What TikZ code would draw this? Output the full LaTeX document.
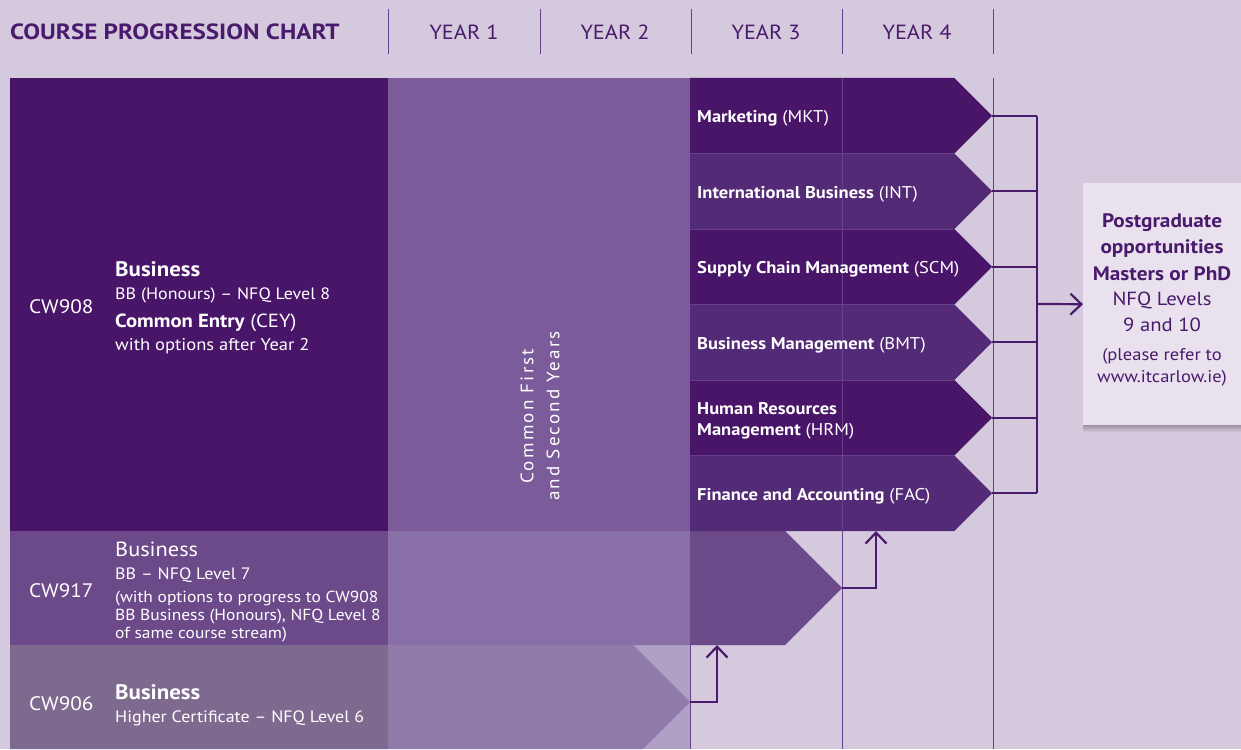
\documentclass[tikz,border=0pt]{standalone}
\usepackage{fontspec}
\setmainfont[FakeStretch=1.09]{PT Sans}
\newfontfamily\spacedfont[LetterSpace=12,FakeStretch=1.06]{PT Sans}
\newfontfamily\titlefont[FakeStretch=1.14]{PT Sans}
\usetikzlibrary{arrows.meta}
\definecolor{bg}{HTML}{D5C9DD}
\definecolor{dk}{HTML}{481569}
\definecolor{dktwo}{HTML}{532A75}
\definecolor{midp}{HTML}{6C4A8A}
\definecolor{greyp}{HTML}{7E6A8F}
\definecolor{ovl}{RGB}{155,135,185}
\definecolor{txt}{HTML}{4A1A6C}
\definecolor{vline}{HTML}{6A3F8C}
\definecolor{pgfill}{HTML}{E9E2EE}
\definecolor{faint}{HTML}{64418A}
\tikzset{
  fs/.style={font=\fontsize{#1}{#1}\selectfont},
  bfs/.style={font=\bfseries\fontsize{#1}{#1}\selectfont},
  wt/.style={text=white, inner sep=0pt, anchor=base west},
  hdr/.style={text=txt, inner sep=0pt, anchor=base},
  pgline/.style={text=txt, inner sep=0pt, anchor=base},
  sepline/.style={draw=vline, line width=1pt},
  faintline/.style={draw=faint, line width=0.8pt},
  bracket/.style={draw=txt, line width=2.2pt},
  barb/.style={-{Straight Barb[length=11pt,width=21pt,line width=2.2pt]}},
}
\begin{document}
\begin{tikzpicture}[x=1pt,y=-1pt]
\useasboundingbox (0,0) rectangle (1241,749);
\fill[bg] (0,0) rectangle (1241,749);

% header
\node[hdr, anchor=base west, font=\titlefont\bfseries\fontsize{22}{22}\selectfont] (title) at (10,40) {COURSE PROGRESSION CHART};
\foreach \x/\n in {388/a,540/b,691/c,842/d,993/e} {
  \draw[sepline] (\x,9) coordinate (st\n) -- (\x,54) coordinate (sb\n);
}
\node[hdr, fs=20.5] (y1) at (464,40) {YEAR 1};
\node[hdr, fs=20.5] (y2) at (615,40) {YEAR 2};
\node[hdr, fs=20.5] (y3) at (766,40) {YEAR 3};
\node[hdr, fs=20.5] (y4) at (917,40) {YEAR 4};

% main blocks
\fill[dk] (10,78) rectangle (690,531);
\fill[midp] (10,531) -- (785,531) -- (842,588) -- (785,645) -- (10,645) -- cycle;
\fill[greyp] (10,645) -- (633,645) -- (690,702) -- (643,749) -- (10,749) -- cycle;
\fill[ovl, opacity=0.62] (388,78) rectangle (690,749);

% option arrows
\foreach \i/\col in {0/dk,1/dktwo,2/dk,3/dktwo,4/dk,5/dktwo} {
  \pgfmathsetmacro\t{78+75.5*\i}
  \pgfmathsetmacro\c{\t+37.75}
  \pgfmathsetmacro\b{\t+75.5}
  \fill[\col] (690,\t) -- (954.25,\t) -- (992,\c) -- (954.25,\b) -- (690,\b) -- cycle;
  \coordinate (tip\i) at (992,\c);
}
\foreach \y in {153.5,229,304.5,380,455.5} {
  \draw[faintline] (690,\y) -- (954.25,\y);
}
\draw[draw=faint, line width=0.6pt] (842,78) -- (842,531);

% vertical grid lines
\draw[sepline] (993,78) -- (993,749);
\draw[sepline] (842,531) -- (842,749);
\draw[sepline] (690,645) -- (690,749);

% option labels
\node[wt, fs=17] (mkt) at (697,122.5) {\textbf{Marketing} (MKT)};
\node[wt, fs=17] (int) at (697,198) {\textbf{International Business} (INT)};
\node[wt, fs=17] (scm) at (697,273.5) {\textbf{Supply Chain Management} (SCM)};
\node[wt, fs=17] (bmt) at (697,349) {\textbf{Business Management} (BMT)};
\node[wt, fs=17] (hrma) at (697,414) {\textbf{Human Resources}};
\node[wt, fs=17] (hrmb) at (697,435) {\textbf{Management} (HRM)};
\node[wt, fs=17] (fac) at (697,500) {\textbf{Finance and Accounting} (FAC)};

% rotated text
\node[rotate=90, align=center, text=white, inner sep=0pt, font=\spacedfont\fontsize{18}{26}\selectfont] (common) at (540,416) {Common First\\and Second Years};

% CW908
\node[wt, fs=19.5] (cw908) at (29,313) {CW908};
\node[wt, bfs=21] (b908a) at (115,276) {Business};
\node[wt, fs=16.5] (b908b) at (115,299) {BB (Honours) – NFQ Level 8};
\node[wt, fs=19] (b908c) at (115,327) {\textbf{Common Entry} (CEY)};
\node[wt, fs=17] (b908d) at (115,350) {with options after Year 2};

% CW917
\node[wt, fs=19.5] (cw917) at (29,597) {CW917};
\node[wt, fs=20.5] (b917a) at (115,556) {Business};
\node[wt, fs=16.5] (b917b) at (115,579) {BB – NFQ Level 7};
\node[wt, fs=16] (b917c) at (115,602) {(with options to progress to CW908};
\node[wt, fs=16] (b917d) at (115,620) {BB Business (Honours), NFQ Level 8};
\node[wt, fs=16] (b917e) at (115,638) {of same course stream)};

% CW906
\node[wt, fs=19.5] (cw906) at (29,710) {CW906};
\node[wt, bfs=21] (b906a) at (115,699) {Business};
\node[wt, fs=16.5] (b906b) at (115,722) {Higher Certificate – NFQ Level 6};

% postgraduate box with shadow
\foreach \k in {1,...,7} {
  \fill[black, opacity=0.04] (1083,{183+\k}) rectangle (1241,{425+\k});
}
\node[fill=pgfill, minimum width=158pt, minimum height=242pt, inner sep=0pt, anchor=north west] (pg) at (1083,183) {};
\node[pgline, bfs=19.5] (pga) at (1162,227) {Postgraduate};
\node[pgline, bfs=19.5] (pgb) at (1162,253) {opportunities};
\node[pgline, bfs=19.5] (pgc) at (1162,280) {Masters or PhD};
\node[pgline, fs=19] (pgd) at (1162,305) {NFQ Levels};
\node[pgline, fs=19] (pge) at (1162,331) {9 and 10};
\node[pgline, fs=17] (pgf) at (1162,360) {(please refer to};
\node[pgline, fs=17] (pgg) at (1162,382) {www.itcarlow.ie)};

% bracket connectors
\coordinate (brx) at (1037,0);
\foreach \i in {0,...,5} {
  \draw[bracket] (tip\i) -- (tip\i -| brx);
}
\draw[bracket] (tip0 -| brx) -- (tip5 -| brx);
\coordinate (brmid) at (1037,304);
\draw[bracket, barb] (brmid) -- (pg.west);

% upward progression arrows
\coordinate (tip917) at (842,588);
\coordinate (facbot) at (876,531);
\draw[bracket, barb] (tip917) -| (facbot);
\coordinate (tip906) at (690,702);
\coordinate (cwbot) at (717,645);
\draw[bracket, barb] (tip906) -| (cwbot);
\end{tikzpicture}
\end{document}
